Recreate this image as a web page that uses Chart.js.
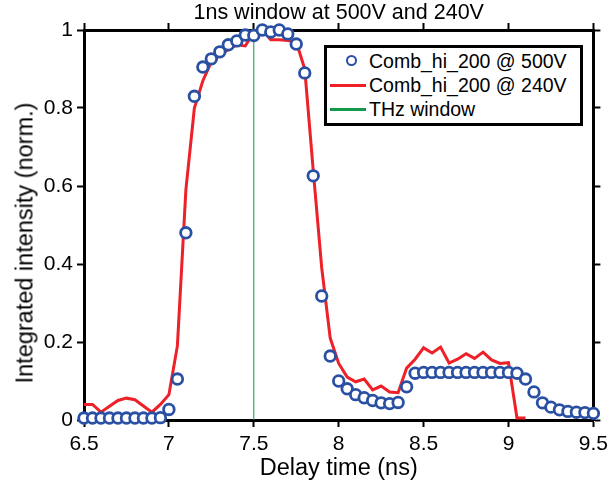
<!DOCTYPE html>
<html>
<head>
<meta charset="utf-8">
<script src="https://cdn.jsdelivr.net/npm/chart.js@4"></script>
<style>
    html, body { margin: 0; padding: 0; background: #fff; }
    #wrap { position: relative; width: 613px; height: 496px; }
    #legend {
        position: absolute; left: 324px; top: 45px; width: 253px; height: 75px;
        border: 3px solid #000; background: #fff;
        font-family: "Liberation Sans", Arial, sans-serif; font-size: 19.5px; color: #000;
    }
    .row { position: absolute; left: 0; height: 24px; line-height: 24px; }
    .row span { position: absolute; left: 42px; white-space: nowrap; }
    .sym { position: absolute; }
    .circ { left: 19px; top: 6px; width: 7px; height: 7px; border: 2.6px solid #2a50a3; border-radius: 50%; }
    .ln { left: 3px; top: 11px; width: 36px; height: 3px; }
    #ylabel {
        position: absolute; left: 25px; top: 243px;
        transform: translate(-50%, -50%) rotate(-90deg);
        font-family: "Liberation Sans", Arial, sans-serif; font-size: 23.5px; color: #000;
        white-space: nowrap;
    }
</style>
</head>
<body>
<div id="wrap">
    <canvas id="chart" width="613" height="496"></canvas>
    <div id="ylabel">Integrated intensity (norm.)</div>
    <div id="legend">
        <div class="row" style="top:1px"><div class="sym circ"></div><span>Comb_hi_200 @ 500V</span></div>
        <div class="row" style="top:25px"><div class="sym ln" style="background:#ee2028"></div><span>Comb_hi_200 @ 240V</span></div>
        <div class="row" style="top:49px"><div class="sym ln" style="background:#119a4a"></div><span>THz window</span></div>
    </div>
</div>
<script>
const time500 = [6.5, 6.55, 6.6, 6.65, 6.7, 6.75, 6.8, 6.85, 6.9, 6.95,
    7.0, 7.05, 7.1, 7.15, 7.2, 7.25, 7.3, 7.35, 7.4, 7.45,
    7.5, 7.55, 7.6, 7.65, 7.7, 7.75, 7.8, 7.85, 7.9, 7.95,
    8.0, 8.05, 8.1, 8.15, 8.2, 8.25, 8.3, 8.35, 8.4, 8.45,
    8.5, 8.55, 8.6, 8.65, 8.7, 8.75, 8.8, 8.85, 8.9, 8.95,
    9.0, 9.05, 9.1, 9.15, 9.2, 9.25, 9.3, 9.35, 9.4, 9.45, 9.5];
const intensity500 = [0.005, 0.005, 0.005, 0.005, 0.005, 0.005, 0.005, 0.005, 0.005, 0.006,
    0.027, 0.105, 0.48, 0.83, 0.905, 0.926, 0.944, 0.962, 0.972, 0.987,
    0.986, 1.0, 0.995, 1.0, 0.99, 0.964, 0.89, 0.626, 0.318, 0.164,
    0.10, 0.08, 0.065, 0.057, 0.05, 0.044, 0.042, 0.045, 0.085, 0.12,
    0.122, 0.122, 0.122, 0.122, 0.122, 0.122, 0.122, 0.122, 0.122, 0.122,
    0.122, 0.12, 0.105, 0.072, 0.044, 0.033, 0.026, 0.022, 0.02, 0.019, 0.017];

const time240 = [6.5, 6.55, 6.6, 6.65, 6.7, 6.75, 6.8, 6.85, 6.9, 6.95,
    7.0, 7.05, 7.1, 7.15, 7.2, 7.25, 7.3, 7.35, 7.4, 7.45,
    7.5, 7.55, 7.6, 7.65, 7.7, 7.75, 7.8, 7.85, 7.9, 7.95,
    8.0, 8.05, 8.1, 8.15, 8.2, 8.25, 8.3, 8.35, 8.4, 8.45,
    8.5, 8.55, 8.6, 8.65, 8.7, 8.75, 8.8, 8.85, 8.9, 8.95,
    9.0, 9.05, 9.1];
const intensity240 = [0.04, 0.04, 0.02, 0.035, 0.05, 0.056, 0.052, 0.036, 0.02, 0.04,
    0.065, 0.19, 0.59, 0.8, 0.87, 0.918, 0.935, 0.95, 0.962, 0.959,
    0.995, 1.0, 0.975, 0.975, 0.973, 0.97, 0.9, 0.64, 0.39, 0.21,
    0.145, 0.11, 0.098, 0.105, 0.077, 0.087, 0.072, 0.07, 0.133, 0.156,
    0.185, 0.172, 0.187, 0.146, 0.156, 0.17, 0.158, 0.174, 0.154, 0.145,
    0.147, 0.005, 0.005];

const windowTime = [7.5, 7.5];
const windowLevel = [0, 1];

const xTicks = [6.5, 7, 7.5, 8, 8.5, 9, 9.5];
const xTickLabels = ['6.5', '7', '7.5', '8', '8.5', '9', '9.5'];
const yTicks = [0, 0.2, 0.4, 0.6, 0.8, 1];
const yTickLabels = ['0', '0.2', '0.4', '0.6', '0.8', '1'];

const toPoints = (xs, ys) => xs.map((x, i) => ({ x: x, y: ys[i] }));
const font = 'Liberation Sans';

const tickMarks = {
    display: true,
    drawOnChartArea: false,
    drawTicks: true,
    tickLength: 7,
    tickWidth: 2,
    tickColor: '#000'
};
const frame = { display: true, color: '#000', width: 3 };

new Chart(document.getElementById('chart').getContext('2d'), {
    type: 'line',
    data: {
        datasets: [
            {
                label: 'Comb_hi_200 @ 500V',
                data: toPoints(time500, intensity500),
                showLine: false,
                pointRadius: 5.3,
                pointBorderWidth: 2.8,
                pointBorderColor: '#2a50a3',
                pointBackgroundColor: '#fff',
                clip: false
            },
            {
                label: 'Comb_hi_200 @ 240V',
                data: toPoints(time240, intensity240),
                borderColor: '#ee2028',
                borderWidth: 3,
                pointRadius: 0,
                tension: 0,
                clip: false
            },
            {
                label: 'THz window',
                data: toPoints(windowTime, windowLevel),
                borderColor: '#119a4a',
                borderWidth: 1,
                pointRadius: 0
            }
        ]
    },
    options: {
        responsive: false,
        animation: false,
        layout: { padding: 0 },
        plugins: {
            legend: { display: false },
            tooltip: { enabled: false },
            title: {
                display: true,
                fullSize: false,
                text: '1ns window at 500V and 240V',
                color: '#000',
                font: { family: font, size: 21.5, weight: 'normal', lineHeight: 1.2 },
                padding: { top: 0, bottom: 4.2 }
            }
        },
        scales: {
            x: {
                type: 'linear',
                position: 'bottom',
                min: 6.5,
                max: 9.5,
                grid: tickMarks,
                border: frame,
                afterBuildTicks: (axis) => { axis.ticks = xTicks.map(v => ({ value: v })); },
                afterFit: (axis) => { axis.height = 76; },
                ticks: {
                    color: '#000',
                    padding: 5,
                    maxRotation: 0,
                    font: { family: font, size: 21 },
                    callback: (v) => xTickLabels[xTicks.indexOf(v)]
                },
                title: {
                    display: true,
                    text: 'Delay time (ns)',
                    color: '#000',
                    font: { family: font, size: 23.5, lineHeight: 1.2 },
                    padding: { top: 0, bottom: 13 }
                }
            },
            y: {
                type: 'linear',
                position: 'left',
                min: 0,
                max: 1,
                grid: tickMarks,
                border: frame,
                afterBuildTicks: (axis) => { axis.ticks = yTicks.map(v => ({ value: v })); },
                afterFit: (axis) => { axis.width = 84; },
                ticks: {
                    color: '#000',
                    padding: 4,
                    font: { family: font, size: 21 },
                    callback: (v) => yTickLabels[yTicks.indexOf(v)]
                }
            },
            xTop: {
                type: 'linear',
                position: 'top',
                min: 6.5,
                max: 9.5,
                grid: tickMarks,
                border: frame,
                afterBuildTicks: (axis) => { axis.ticks = xTicks.map(v => ({ value: v })); },
                afterFit: (axis) => { axis.height = 0; },
                ticks: { display: false }
            },
            yRight: {
                type: 'linear',
                position: 'right',
                min: 0,
                max: 1,
                grid: tickMarks,
                border: frame,
                afterBuildTicks: (axis) => { axis.ticks = yTicks.map(v => ({ value: v })); },
                afterFit: (axis) => { axis.width = 14; },
                ticks: { display: false }
            }
        }
    }
});
</script>
</body>
</html>
